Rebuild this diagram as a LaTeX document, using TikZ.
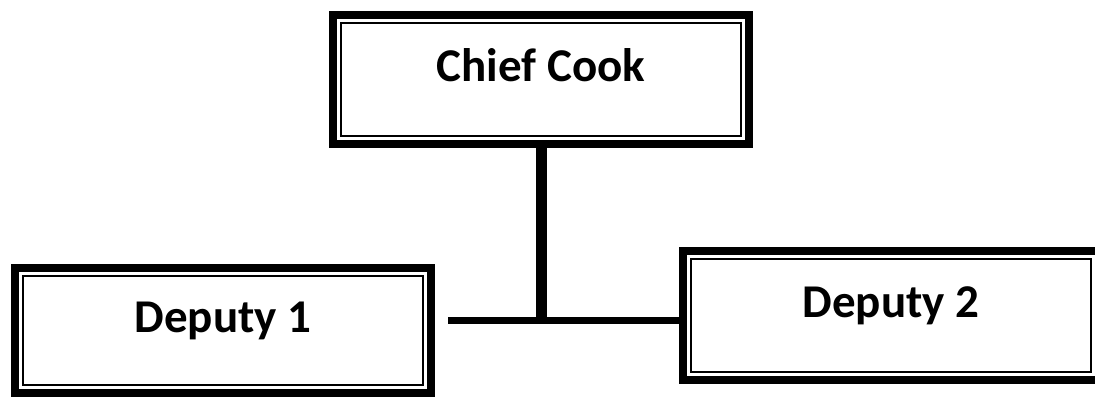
\documentclass[tikz,border=0pt]{standalone}
\usepackage{fontspec}
\setmainfont{Carlito}
\usepackage{tikz}
\tikzset{
  orgnode/.style = {rectangle, draw=black, line width=8pt, align=center,
    inner sep=0pt, outer sep=0pt, minimum width=416pt,
    font=\bfseries\fontsize{47}{56}\selectfont, text height=3pt, text depth=0pt},
  org_n/.style = {orgnode, minimum height=129pt},% noeud chef
  org_d/.style = {orgnode, minimum height=125pt},% noeud adjoint
  org_in/.style = {draw=black, line width=2pt},% filet interieur
  org_h/.style = {draw=black, line width=7pt},% trait horizontal
  org_v/.style = {draw=black, line width=11pt}% trait vertical
}
\begin{document}
\begin{tikzpicture}[x=1pt,y=-1pt]
\useasboundingbox (0,0) rectangle (1095,397);
\node [org_n] (chief) at (541,79.5) {Chief Cook};
\node [org_d] (dep1) at (223,330.5) {Deputy 1};
\node [org_n] (dep2) at (891,315.75) {Deputy 2};
\foreach \n in {chief,dep1,dep2}
  \draw [org_in] ([shift={(8pt,8pt)}]\n.south west) rectangle ([shift={(-8pt,-8pt)}]\n.north east);
\coordinate (lend) at (448,320.5);
\coordinate (split) at (chief.south |- lend);
\draw [org_v] (chief.south) -- (split);
\draw [org_h] (lend) -- (dep2.west |- lend);
\end{tikzpicture}
\end{document}
